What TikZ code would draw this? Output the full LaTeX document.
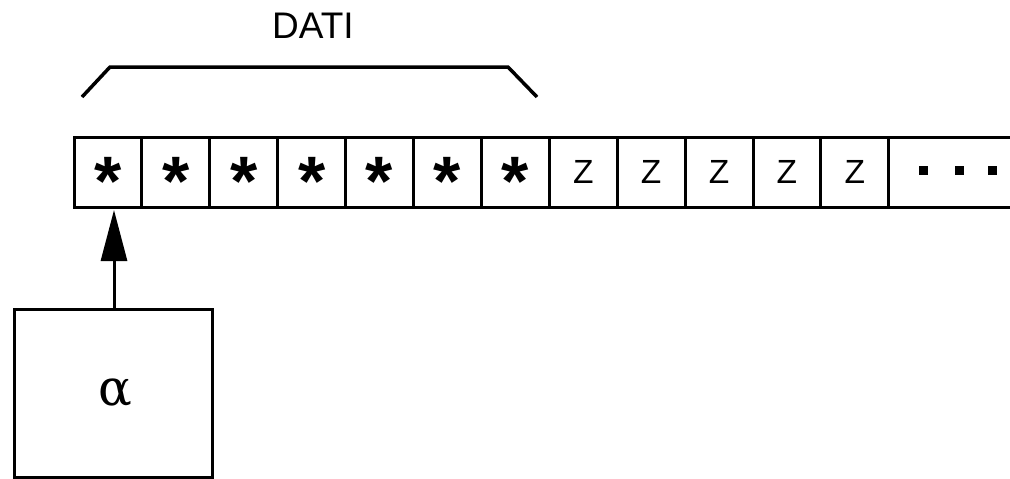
\documentclass[tikz,border=0pt]{standalone}
\usepackage{fontspec}
\setmainfont{Liberation Sans}
\newfontfamily\greekfont{DejaVu Serif}
\usetikzlibrary{arrows.meta,calc}
\begin{document}
\begin{tikzpicture}[x=1pt,y=1pt,
  cellbox/.style={draw,line width=3pt,minimum width=67.9pt,minimum height=70pt,inner sep=0pt,outer sep=0pt},
  starsym/.style={font=\fontsize{70}{70}\bfseries\selectfont,inner sep=0pt,anchor=base},
  zsym/.style={font=\fontsize{33.5}{34}\selectfont,inner sep=0pt},
  headbox/.style={draw,line width=3pt,minimum width=198pt,minimum height=168pt,inner sep=0pt,outer sep=0pt},
  thick line/.style={line width=3.5pt},
  pointer/.style={line width=3pt,-{Triangle[length=51pt,width=26pt]}}]
\useasboundingbox (0,0) rectangle (1010,-479);

% tape cells
\foreach \i in {1,...,12}{
  \node[cellbox] (c\i) at ({74+67.9*(\i-0.5)},-172) {};
}
% symbols in the cells
\foreach \i in {1,...,7}{
  \node[starsym] (s\i) at ($(c\i.center)+(0,-33)$) {*};
}
\foreach \i in {8,...,12}{
  \node[zsym] (z\i) at (c\i.center) {Z};
}

% open end of the tape
\node[minimum width=121pt,minimum height=70pt,inner sep=0pt,outer sep=0pt,anchor=west] (rest) at (c12.east) {};
\draw[line width=3pt] (c12.north east) -- (rest.north east);
\draw[line width=3pt] (c12.south east) -- (rest.south east);
\foreach \x in {923,959,992}{
  \fill (\x-4.5,-165.5) rectangle (\x+4.5,-174.5);
}

% bracket over the data
\draw[thick line] (82,-97) -- (110,-67) -- (508,-67) -- (537,-97);
\node[font=\fontsize{37}{38}\selectfont,inner sep=0pt] (dati) at (313,-26) {DATI};

% head and its pointer to the tape
\node[headbox] (head) at (113,-393) {};
\node[font=\fontsize{50}{50}\greekfont\selectfont,inner sep=0pt] (alpha) at (115,-393) {α};
\coordinate (hs) at ($(head.north)+(1,0)$);
\coordinate (ht) at ($(hs |- c1.south)+(0,-3)$);
\draw[pointer] (hs) -- (ht);
\end{tikzpicture}
\end{document}
